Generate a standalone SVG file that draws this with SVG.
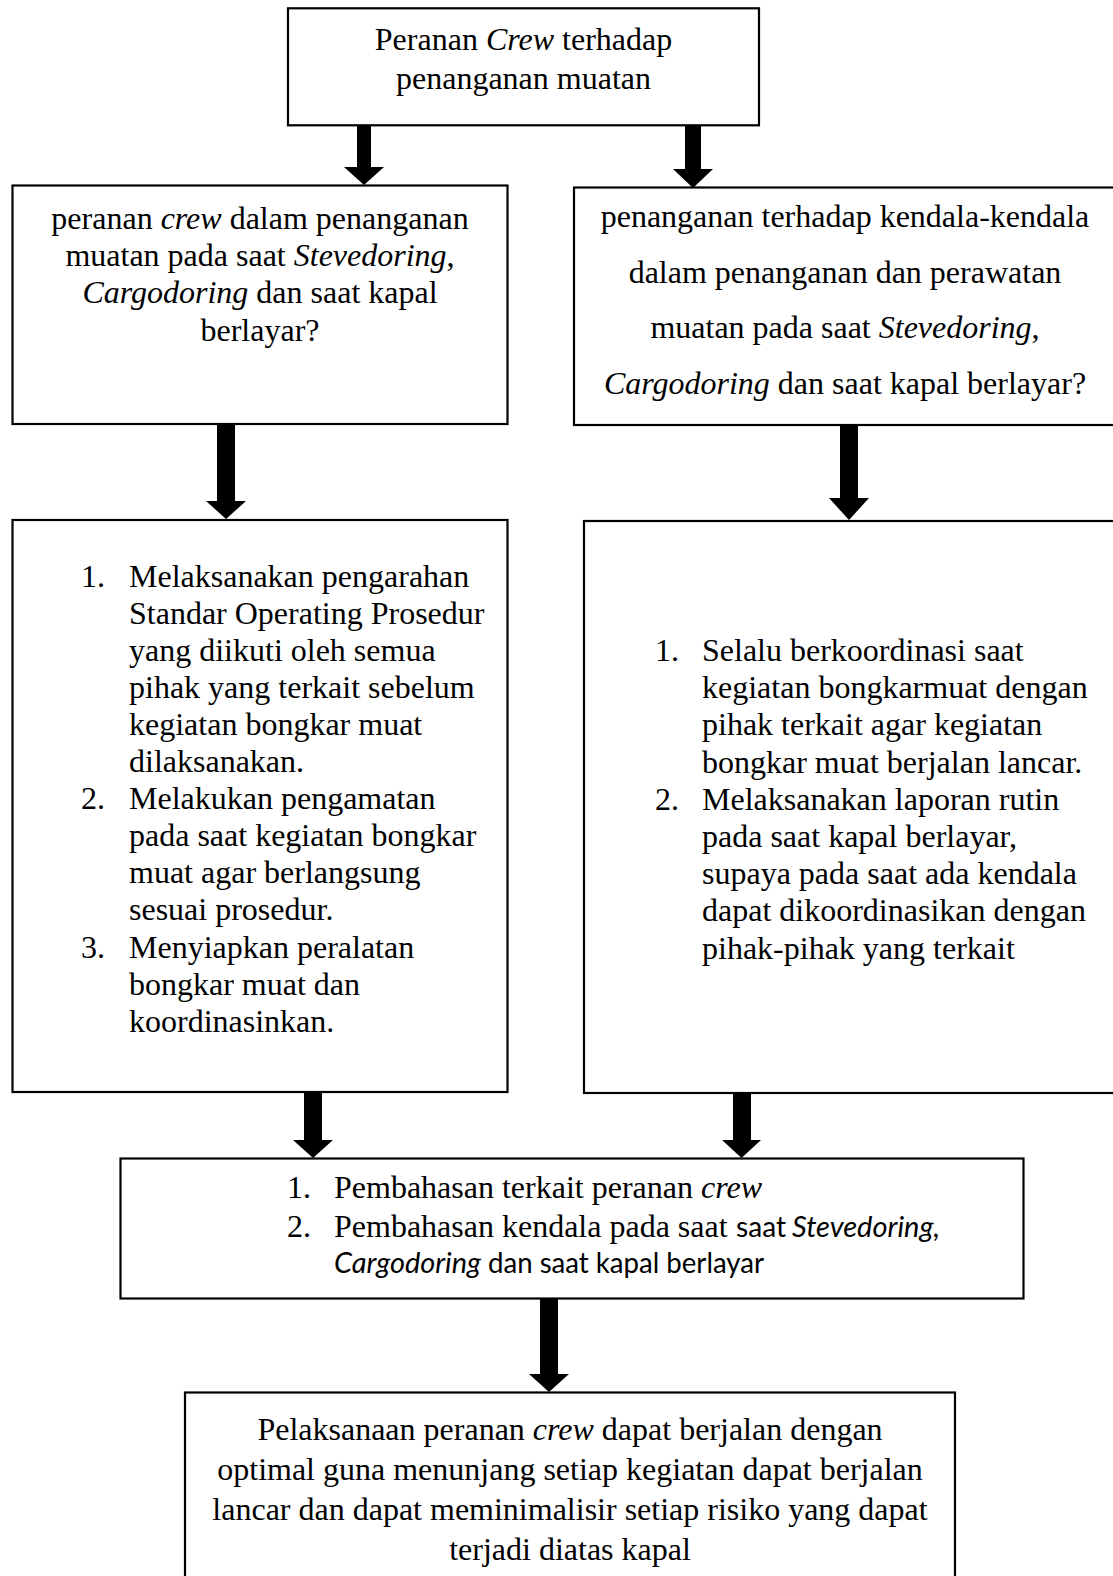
<svg xmlns="http://www.w3.org/2000/svg" width="1113" height="1576" viewBox="0 0 1113 1576">
<style>
.box{fill:#fff;stroke:#000;stroke-width:2.2}
.t{font-family:"Liberation Serif","Times New Roman",serif;font-size:32px;fill:#000}
.c{text-anchor:middle}
.i{font-style:italic}
.s{font-family:Lato,"Liberation Sans",sans-serif;font-size:29.3px;fill:#000}
.arr{fill:#000;stroke:none}
</style>
<rect x="0" y="0" width="1113" height="1576" fill="#fff"/>

<g id="connectors">
<rect class="arr" x="357" y="125" width="14" height="43"/><polygon class="arr" points="344,167 384,167 364,185"/>
<rect class="arr" x="685" y="125" width="16" height="45"/><polygon class="arr" points="673,169 713,169 693,188"/>
<rect class="arr" x="217" y="423" width="18" height="79"/><polygon class="arr" points="206,501 246,501 226,519"/>
<rect class="arr" x="840" y="424" width="18" height="75"/><polygon class="arr" points="829,498 869,498 849,520"/>
<rect class="arr" x="304" y="1091" width="18" height="50"/><polygon class="arr" points="293,1140 333,1140 313,1158"/>
<rect class="arr" x="733" y="1092" width="18" height="49"/><polygon class="arr" points="722,1140 761,1140 741.5,1158"/>
<rect class="arr" x="540" y="1297" width="18" height="78"/><polygon class="arr" points="529,1374 569,1374 549,1392"/>
</g>

<g id="node-top">
<rect class="box" x="288" y="8.3" width="471" height="117"/>
<text class="t c" x="523.5" y="50"><tspan>Peranan </tspan><tspan class="i">Crew</tspan><tspan> terhadap</tspan></text>
<text class="t c" x="523.5" y="89">penanganan muatan</text>
</g>

<g id="node-q1">
<rect class="box" x="12.5" y="185.5" width="495" height="238.5"/>
<text class="t c" x="260" y="229"><tspan>peranan </tspan><tspan class="i">crew</tspan><tspan> dalam penanganan</tspan></text>
<text class="t c" x="260" y="266"><tspan>muatan pada saat </tspan><tspan class="i">Stevedoring</tspan><tspan>,</tspan></text>
<text class="t c" x="260" y="303"><tspan class="i">Cargodoring</tspan><tspan> dan saat kapal</tspan></text>
<text class="t c" x="260" y="340.5">berlayar?</text>
</g>

<g id="node-q2">
<rect class="box" x="574" y="187.5" width="545" height="237.5"/>
<text class="t c" x="845" y="227">penanganan terhadap kendala-kendala</text>
<text class="t c" x="845" y="282.5">dalam penanganan dan perawatan</text>
<text class="t c" x="845" y="338"><tspan>muatan pada saat </tspan><tspan class="i">Stevedoring</tspan><tspan>,</tspan></text>
<text class="t c" x="845" y="393.5"><tspan class="i">Cargodoring</tspan><tspan> dan saat kapal berlayar?</tspan></text>
</g>

<g id="node-a1">
<rect class="box" x="12.5" y="520" width="495" height="572"/>
<text class="t" x="81" y="586.5">1.</text>
<text class="t" x="129" y="586.5">Melaksanakan pengarahan</text>
<text class="t" x="129" y="623.6">Standar Operating Prosedur</text>
<text class="t" x="129" y="660.7">yang diikuti oleh semua</text>
<text class="t" x="129" y="697.8">pihak yang terkait sebelum</text>
<text class="t" x="129" y="734.9">kegiatan bongkar muat</text>
<text class="t" x="129" y="772">dilaksanakan.</text>
<text class="t" x="81" y="809.1">2.</text>
<text class="t" x="129" y="809.1">Melakukan pengamatan</text>
<text class="t" x="129" y="846.2">pada saat kegiatan bongkar</text>
<text class="t" x="129" y="883.3">muat agar berlangsung</text>
<text class="t" x="129" y="920.4">sesuai prosedur.</text>
<text class="t" x="81" y="957.5">3.</text>
<text class="t" x="129" y="957.5">Menyiapkan peralatan</text>
<text class="t" x="129" y="994.6">bongkar muat dan</text>
<text class="t" x="129" y="1031.7">koordinasinkan.</text>
</g>

<g id="node-a2">
<rect class="box" x="584" y="521" width="540" height="572"/>
<text class="t" x="655" y="661">1.</text>
<text class="t" x="702" y="661">Selalu berkoordinasi saat</text>
<text class="t" x="702" y="698.2">kegiatan bongkarmuat dengan</text>
<text class="t" x="702" y="735.4">pihak terkait agar kegiatan</text>
<text class="t" x="702" y="772.6">bongkar muat berjalan lancar.</text>
<text class="t" x="655" y="809.8">2.</text>
<text class="t" x="702" y="809.8">Melaksanakan laporan rutin</text>
<text class="t" x="702" y="847">pada saat kapal berlayar,</text>
<text class="t" x="702" y="884.2">supaya pada saat ada kendala</text>
<text class="t" x="702" y="921.4">dapat dikoordinasikan dengan</text>
<text class="t" x="702" y="958.6">pihak-pihak yang terkait</text>
</g>

<g id="node-discussion">
<rect class="box" x="120.5" y="1158.5" width="903" height="140"/>
<text class="t" x="287" y="1198.3">1.</text>
<text class="t" x="334" y="1198.3"><tspan>Pembahasan terkait peranan </tspan><tspan class="i">crew</tspan></text>
<text class="t" x="287" y="1236.7">2.</text>
<text class="t" x="334" y="1236.7">Pembahasan kendala pada saat </text>
<text class="s" x="736" y="1236.7" textLength="50" lengthAdjust="spacingAndGlyphs">saat</text>
<text class="s i" x="792" y="1236.7" textLength="148" lengthAdjust="spacingAndGlyphs">Stevedoring,</text>
<text class="s i" x="334" y="1272.7" textLength="147" lengthAdjust="spacingAndGlyphs">Cargodoring</text>
<text class="s" x="488" y="1272.7" textLength="276" lengthAdjust="spacingAndGlyphs">dan saat kapal berlayar</text>
</g>

<g id="node-result">
<rect class="box" x="185" y="1392.5" width="770" height="200"/>
<text class="t c" x="570" y="1440"><tspan>Pelaksanaan peranan </tspan><tspan class="i">crew</tspan><tspan> dapat berjalan dengan</tspan></text>
<text class="t c" x="570" y="1480">optimal guna menunjang setiap kegiatan dapat berjalan</text>
<text class="t c" x="570" y="1520">lancar dan dapat meminimalisir setiap risiko yang dapat</text>
<text class="t c" x="570" y="1560">terjadi diatas kapal</text>
</g>
</svg>
